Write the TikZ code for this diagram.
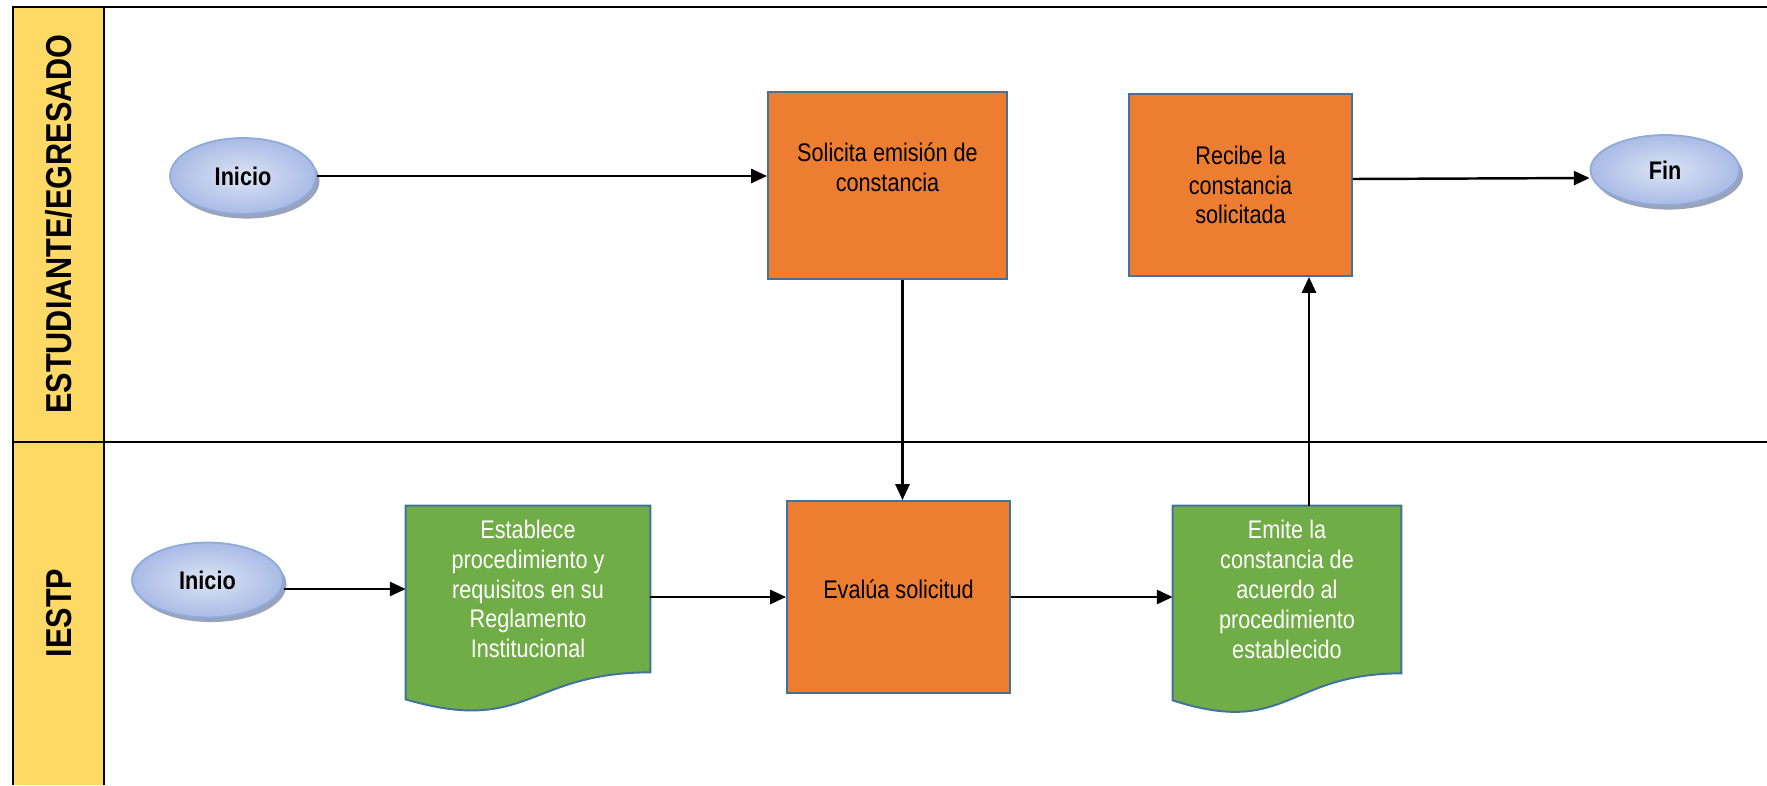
\documentclass[tikz,border=0pt]{standalone}
\usepackage{fontspec}
\setmainfont[FakeStretch=0.85]{Liberation Sans}
\usetikzlibrary{arrows.meta,shapes.geometric,shadows,calc,backgrounds}
\definecolor{headyellow}{HTML}{FFD966}
\definecolor{procorange}{HTML}{ED7D31}
\definecolor{docgreen}{HTML}{70AD47}
\definecolor{bordblue}{HTML}{41719C}
\definecolor{termlight}{HTML}{DCE4F4}
\definecolor{termdark}{HTML}{A9BBE6}
\definecolor{termline}{HTML}{8EAADB}
\definecolor{termshadow}{HTML}{8E99B3}
\def\pu{0.02cm}
\newcommand\boxfont{\fontsize{14.5}{17}\selectfont}
\tikzset{
  laneline/.style={line width=1.5pt, black},
  lanelabel/.style={font=\fontsize{20.5}{24}\selectfont\bfseries, text=black, inner sep=0pt},
  proc/.style={rectangle, fill=procorange, draw=bordblue, line width=1.1pt, inner sep=0pt, text=black, align=center, font=\boxfont},
  docbox/.style={rectangle, inner sep=0pt, text=white, align=center, font=\boxfont},
  docpath/.style={fill=docgreen, draw=bordblue, line width=1.1pt},
  term/.style={ellipse, inner sep=0pt, draw=termline, line width=1pt, inner color=termlight, outer color=termdark,
    drop shadow={shadow xshift=2pt, shadow yshift=-2.6pt, fill=termshadow, opacity=0.9},
    font=\fontsize{14.5}{17}\selectfont\bfseries, text=black},
  flow/.style={-{Triangle[length=9pt,width=8pt]}, line width=1.4pt, black}
}
\begin{document}
\begin{tikzpicture}[x=0.02cm, y=-0.02cm]
\useasboundingbox (0,0) rectangle (1767,785);
% lanes
\fill[headyellow] (13,7) rectangle (104,785);
\draw[laneline] (13,785) -- (13,7) -- (1767,7);
\draw[laneline] (104,7) -- (104,785);
\draw[laneline] (13,442) -- (1767,442);
\node[lanelabel, rotate=90] (lane1) at (59,224) {ESTUDIANTE/EGRESADO};
\node[lanelabel, rotate=90] (lane2) at (59,613) {IESTP};
% top lane
\node[term, minimum width=146*\pu, minimum height=76*\pu] (ini1) at (243,176) {Inicio};
\node[proc, minimum width=239*\pu, minimum height=187*\pu,
  label={[yshift=18*\pu, align=center, font=\boxfont, text=black]center:Solicita emisión de\\constancia}] (sol) at (887.5,185.5) {};
\node[proc, minimum width=223*\pu, minimum height=182*\pu] (rec) at (1240.5,185) {Recibe la\\constancia\\solicitada};
\node[term, minimum width=149*\pu, minimum height=70*\pu] (fin) at (1665,170) {Fin};
% bottom lane
\node[term, minimum width=151*\pu, minimum height=75*\pu] (ini2) at (207.5,580) {Inicio};
\node[docbox, minimum width=244*\pu, minimum height=166*\pu] (est) at (528,589) {Establece\\procedimiento y\\requisitos en su\\Reglamento\\Institucional};
\node[proc, minimum width=223*\pu, minimum height=192*\pu,
  label={[yshift=8*\pu, font=\boxfont, text=black]center:Evalúa solicitud}] (eva) at (898.5,597) {};
\node[docbox, minimum width=228*\pu, minimum height=167*\pu] (emi) at (1287,589.5) {Emite la\\constancia de\\acuerdo al\\procedimiento\\establecido};
\begin{scope}[on background layer]
\draw[docpath] (est.north west) -- (est.north east) -- (est.south east)
  .. controls (est.south) and ($(est.south)+(0,63)$) .. ($(est.south west)+(0,27)$) -- cycle;
\draw[docpath] (emi.north west) -- (emi.north east) -- (emi.south east)
  .. controls (emi.south) and ($(emi.south)+(0,64)$) .. ($(emi.south west)+(0,27)$) -- cycle;
\end{scope}
% connectors
\draw[flow] (ini1.east) -- (ini1.east -| sol.west);
\draw[flow] ([xshift=4*\pu]sol.south -| eva.north) -- ([xshift=4*\pu]eva.north);
\draw[flow] ([xshift=22*\pu]emi.north) -- ([xshift=22*\pu]emi.north |- rec.south);
\draw[flow] ([yshift=6*\pu]rec.east) -- ([yshift=-8*\pu]fin.west);
\draw[flow] (ini2.east |- est.west) -- (est.west);
\draw[flow] (est.east |- eva.west) -- (eva.west);
\draw[flow] (eva.east) -- (eva.east -| emi.west);
\end{tikzpicture}
\end{document}
